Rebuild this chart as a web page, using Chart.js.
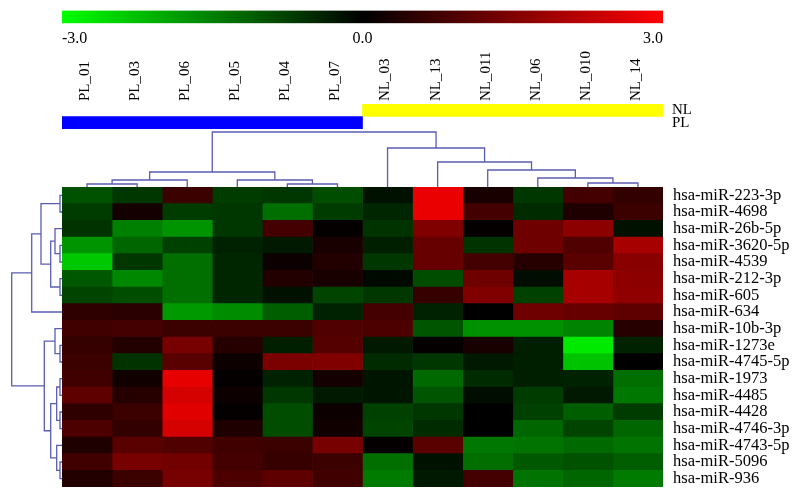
<!DOCTYPE html>
<html>
<head>
<meta charset="utf-8">
<script src="https://cdn.jsdelivr.net/npm/chart.js@4.4.1/dist/chart.umd.min.js"></script>
<style>
  body { margin: 0; background: #fff; }
  #wrap { position: relative; width: 800px; height: 499px; overflow: hidden; }
  canvas { position: absolute; }
  #scaleBar { left: 62px; top: 0; }
  #groups { left: 62px; top: 40px; }
  #colTree { left: 62px; top: 129px; }
  #rowTree { left: 0; top: 187px; }
  #heat { left: 62px; top: 187px; }
</style>
</head>
<body>
<div id="wrap">
  <canvas id="scaleBar" width="601" height="60"></canvas>
  <canvas id="groups" width="641" height="89"></canvas>
  <canvas id="colTree" width="601" height="58"></canvas>
  <canvas id="rowTree" width="62" height="300"></canvas>
  <canvas id="heat" width="731" height="300"></canvas>
</div>
<script>
const colLabels = ["PL_01", "PL_03", "PL_06", "PL_05", "PL_04", "PL_07",
                   "NL_03", "NL_13", "NL_011", "NL_06", "NL_010", "NL_14"];
const colGroups = ["PL", "PL", "PL", "PL", "PL", "PL", "NL", "NL", "NL", "NL", "NL", "NL"];
const groupNames = ["NL", "PL"];
const rowLabels = ["hsa-miR-223-3p", "hsa-miR-4698", "hsa-miR-26b-5p", "hsa-miR-3620-5p",
                   "hsa-miR-4539", "hsa-miR-212-3p", "hsa-miR-605", "hsa-miR-634",
                   "hsa-miR-10b-3p", "hsa-miR-1273e", "hsa-miR-4745-5p", "hsa-miR-1973",
                   "hsa-miR-4485", "hsa-miR-4428", "hsa-miR-4746-3p", "hsa-miR-4743-5p",
                   "hsa-miR-5096", "hsa-miR-936"];
// one row per miRNA, columns in colLabels order
const expr = [
  [-0.95, -0.65, 0.7, -0.7, -0.65, -0.9, -0.2, 2.75, 0.3, -0.65, 0.8, 0.6],
  [-0.7, 0.25, -0.7, -0.65, -1.3, -0.7, -0.45, 2.75, 0.8, -0.5, 0.35, 0.7],
  [-0.6, -1.5, -1.75, -0.65, 0.8, 0.05, -0.6, 1.5, 0.05, 1.3, 1.65, -0.2],
  [-1.75, -1.2, -0.75, -0.4, -0.3, 0.3, -0.35, 1.2, -0.6, 1.3, 0.95, 1.95],
  [-2.35, -0.65, -1.3, -0.45, 0.15, 0.4, -0.65, 1.2, 0.8, 0.45, 1.05, 1.6],
  [-1.05, -1.6, -1.3, -0.45, 0.4, 0.3, -0.1, -0.9, 1.3, -0.15, 1.95, 1.65],
  [-0.8, -0.9, -1.3, -0.45, -0.2, -0.8, -0.65, 0.65, 1.5, -0.75, 1.95, 1.7],
  [0.55, 0.5, -1.8, -1.65, -1.1, -0.4, 0.8, -0.4, 0, 1.3, 1.2, 1.1],
  [0.75, 0.8, 0.7, 0.7, 0.7, 0.95, 0.9, -1.0, -1.7, -1.7, -1.55, 0.45],
  [0.65, 0.4, 1.4, 0.45, -0.35, 1.0, -0.3, 0.05, 0.3, -0.35, -2.75, -0.4],
  [0.7, -0.6, 1.05, 0.15, 1.45, 1.5, -0.5, -0.65, -0.3, -0.35, -2.3, 0],
  [0.75, 0.2, 2.7, 0.05, -0.4, 0.25, -0.25, -1.25, -0.5, -0.35, -0.4, -1.3],
  [1.1, 0.45, 2.5, 0.15, -0.65, -0.3, -0.25, -1.0, -0.15, -0.7, -0.3, -1.4],
  [0.55, 0.7, 2.65, 0.05, -0.9, 0.15, -0.75, -0.65, 0, -0.75, -1.1, -0.7],
  [0.9, 0.6, 2.5, 0.35, -0.9, 0.2, -0.8, -0.5, 0, -1.2, -0.8, -1.2],
  [0.35, 1.05, 0.95, 0.75, 0.7, 1.4, 0.05, 1.05, -1.4, -1.35, -1.25, -1.35],
  [0.75, 1.4, 1.35, 0.8, 0.65, 0.7, -1.3, -0.2, -1.3, -1.05, -0.95, -1.1],
  [0.4, 0.7, 1.4, 0.9, 1.1, 0.75, -1.45, -0.3, 0.8, -1.35, -1.2, -1.45]
];
const scaleTicks = [-3, 0, 3];
// linkage: [childA, childB, height]; new clusters numbered after the leaves
const colMerges = [[0, 1, 3], [12, 2, 7], [4, 5, 3], [3, 14, 7], [13, 15, 15],
                   [10, 11, 4], [9, 17, 9], [8, 18, 17], [7, 19, 25], [6, 20, 39], [16, 21, 55]];
const rowMerges = [[0, 1, 2], [3, 4, 2], [2, 19, 7], [5, 6, 2], [20, 21, 11.3], [18, 22, 21],
                   [23, 7, 30.3], [9, 10, 2], [8, 25, 7], [11, 12, 2], [13, 14, 2], [27, 28, 5.3],
                   [16, 17, 2], [15, 30, 5.3], [29, 31, 11.3], [26, 32, 17.7], [24, 33, 50.3]];

const serif = "'Liberation Serif', 'Times New Roman', serif";
const treeColor = "#5a5cb4";
const groupColors = { NL: "#ffff00", PL: "#0000ff" };

function heatColor(v) {
    let c = Math.round(Math.min(Math.abs(v) / 3, 1) * 255);
    return v < 0 ? `rgb(0,${c},0)` : `rgb(${c},0,0)`;
}

function treeSegments(merges, nLeaves) {
    let pos = [], hgt = [];
    for (let i = 0; i < nLeaves; i++) { pos.push(i + 0.5); hgt.push(0); }
    let segs = [];
    merges.forEach(([a, b, h]) => {
        segs.push([[pos[a], hgt[a]], [pos[a], h], [pos[b], h], [pos[b], hgt[b]]]);
        pos.push((pos[a] + pos[b]) / 2);
        hgt.push(h);
    });
    return segs;
}

const base = {
    responsive: false,
    animation: false,
    events: [],
    layout: { padding: 0 },
    plugins: { legend: { display: false }, tooltip: { enabled: false } }
};

// colour key
new Chart(document.getElementById("scaleBar"), {
    type: "bar",
    data: {
        labels: [""],
        datasets: [{
            data: [[scaleTicks[0], scaleTicks[scaleTicks.length - 1]]],
            backgroundColor: ctx => {
                let chart = ctx.chart;
                if (!chart.chartArea) return "#000";
                let x = chart.scales.x;
                let g = chart.ctx.createLinearGradient(x.getPixelForValue(x.min), 0, x.getPixelForValue(x.max), 0);
                g.addColorStop(0, heatColor(x.min));
                g.addColorStop(0.5, heatColor(0));
                g.addColorStop(1, heatColor(x.max));
                return g;
            },
            borderWidth: 0,
            barPercentage: 1,
            categoryPercentage: 1
        }]
    },
    options: {
        ...base,
        indexAxis: "y",
        layout: { padding: { top: 10.5, bottom: 14.7 } },
        scales: {
            y: { display: false },
            x: {
                min: scaleTicks[0], max: scaleTicks[scaleTicks.length - 1],
                afterBuildTicks: s => { s.ticks = scaleTicks.map(v => ({ value: v })); },
                afterFit: s => { s.height = 22; s.paddingLeft = 0; s.paddingRight = 0; },
                grid: { display: false, drawTicks: false },
                border: { display: false },
                ticks: { align: "inner", padding: 6, color: "#000",
                         font: { family: serif, size: 16 },
                         callback: v => v.toFixed(1) }
            }
        }
    }
});

// sample names + group bars
let groupSpans = groupNames.map(g => {
    let idx = colGroups.map((v, i) => v === g ? i : -1).filter(i => i >= 0);
    return [Math.min(...idx), Math.max(...idx) + 1];
});
new Chart(document.getElementById("groups"), {
    type: "bar",
    data: {
        labels: groupNames,
        datasets: [{
            data: groupSpans,
            backgroundColor: groupNames.map(g => groupColors[g]),
            borderWidth: 0,
            barPercentage: 1,
            categoryPercentage: 1
        }]
    },
    options: {
        ...base,
        indexAxis: "y",
        scales: {
            x: {
                position: "top", min: 0, max: colLabels.length,
                afterBuildTicks: s => { s.ticks = colLabels.map((_, i) => ({ value: i + 0.5 })); },
                afterFit: s => { s.height = 64; s.paddingLeft = 0; s.paddingRight = 0; },
                grid: { display: false, drawTicks: false },
                border: { display: false },
                ticks: { minRotation: 90, maxRotation: 90, autoSkip: false, padding: 3,
                         labelOffset: 16,
                         color: "#000", font: { family: serif, size: 15 },
                         callback: (v, i) => colLabels[i] }
            },
            y: {
                position: "right",
                afterFit: s => { s.width = 40; s.paddingTop = 0; s.paddingBottom = 0; },
                grid: { display: false, drawTicks: false },
                border: { display: false },
                ticks: { padding: 9, autoSkip: false, color: "#000",
                         font: { family: serif, size: 15 } }
            }
        }
    }
});

function treeDatasets(segs, flip) {
    return segs.map(s => ({
        data: s.map(([p, h]) => flip ? { x: h, y: p } : { x: p, y: h }),
        showLine: true,
        pointRadius: 0,
        borderColor: treeColor,
        borderWidth: 1.3,
        tension: 0,
        clip: false
    }));
}

// sample dendrogram
new Chart(document.getElementById("colTree"), {
    type: "scatter",
    data: { datasets: treeDatasets(treeSegments(colMerges, colLabels.length), false) },
    options: {
        ...base,
        scales: {
            x: { type: "linear", min: 0, max: colLabels.length, display: false },
            y: { type: "linear", min: 0, max: 58, display: false }
        }
    }
});

// miRNA dendrogram
new Chart(document.getElementById("rowTree"), {
    type: "scatter",
    data: { datasets: treeDatasets(treeSegments(rowMerges, rowLabels.length), true) },
    options: {
        ...base,
        scales: {
            x: { type: "linear", min: 0, max: 62, reverse: true, display: false },
            y: { type: "linear", min: 0, max: rowLabels.length, reverse: true, display: false }
        }
    }
});

// heatmap: one floating-bar dataset per sample column
new Chart(document.getElementById("heat"), {
    type: "bar",
    data: {
        labels: rowLabels,
        datasets: colLabels.map((name, c) => ({
            label: name,
            data: rowLabels.map(() => [c, c + 1]),
            backgroundColor: expr.map(r => heatColor(r[c])),
            borderWidth: 0,
            barPercentage: 1,
            categoryPercentage: 1,
            grouped: false
        }))
    },
    options: {
        ...base,
        indexAxis: "y",
        scales: {
            x: { type: "linear", min: 0, max: colLabels.length, display: false },
            y: {
                position: "right",
                afterFit: s => { s.width = 130; s.paddingTop = 0; s.paddingBottom = 0; },
                grid: { display: false, drawTicks: false },
                border: { display: false },
                ticks: { padding: 10, color: "#000", autoSkip: false,
                         font: { family: serif, size: 16.5 } }
            }
        }
    }
});
</script>
</body>
</html>
